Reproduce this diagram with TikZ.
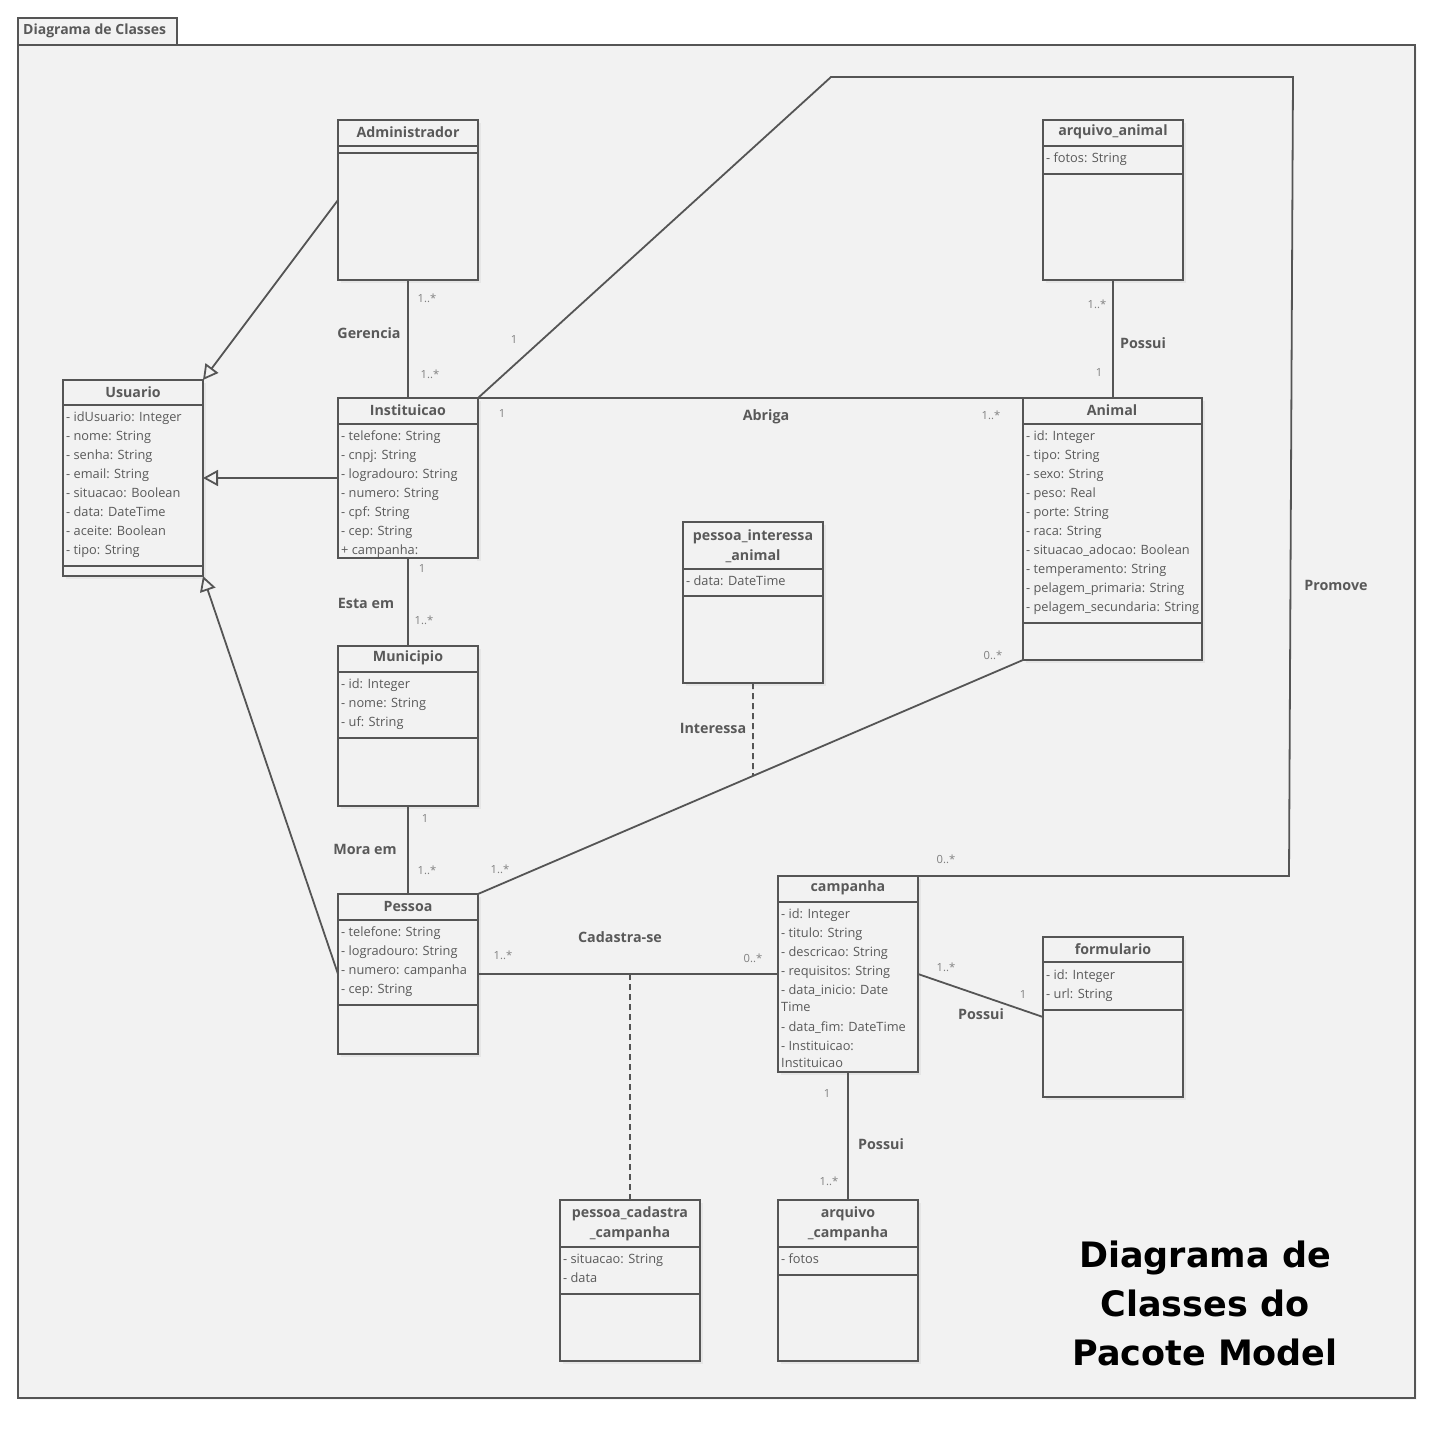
\documentclass[tikz,border=0pt]{standalone}
\usepackage{fontspec}
\setmainfont{Open Sans}
\newfontfamily\titlefont{DejaVu Sans}
\usetikzlibrary{arrows.meta,shadows,calc}
\definecolor{ln}{HTML}{555555}
\definecolor{bg}{HTML}{F2F2F2}
\definecolor{txt}{HTML}{595959}
\definecolor{multc}{HTML}{808080}
\tikzset{
  classbox/.style={draw=ln, line width=2pt, fill=bg, inner sep=0pt, outer sep=0pt, anchor=north west,
    drop shadow={opacity=0.10, shadow xshift=3pt, shadow yshift=-3pt}},
  cname/.style={font=\bfseries\fontsize{14.2}{20}\selectfont, text=txt, inner sep=0pt, align=center},
  attr/.style={anchor=west, inner sep=0pt, font=\fontsize{12.8}{14}\selectfont, text=txt, text height=9.5pt, text depth=3pt},
  seprule/.style={draw=ln, line width=2pt},
  conn/.style={draw=ln, line width=1.8pt},
  gen/.style={conn, -{Triangle[length=15pt, width=16pt, fill=bg, line width=1.8pt]}},
  assocdash/.style={draw=ln, line width=1.8pt, dash pattern=on 6pt off 4pt},
  multl/.style={font=\fontsize{11.2}{13}\selectfont, text=multc, inner sep=0pt},
  alabel/.style={font=\bfseries\fontsize{14.3}{16}\selectfont, text=txt, inner sep=0pt},
}
\newcommand{\attrlist}[4]{\foreach \t [count=\i] in {#4}{\node[attr] (#1-a\i) at (#2,{#3+19*(\i-1)}) {\t};}}
\newcommand{\seprow}[2]{\draw[seprule] (#1.west |- 0,#2) -- (#1.east |- 0,#2);}
\begin{document}
\begin{tikzpicture}[x=1pt,y=-1pt]
\useasboundingbox (0,0) rectangle (1435,1432);
\fill[white] (0,0) rectangle (1435,1432);
% frame
\draw[draw=ln, line width=2pt, fill=bg, drop shadow={opacity=0.08, shadow xshift=2pt, shadow yshift=-2pt}] (18,45) rectangle (1415,1398);
\draw[draw=ln, line width=2pt, fill=bg] (18,18) rectangle (177,45);
\node[anchor=west, font=\bfseries\fontsize{14}{16}\selectfont, text=txt, inner sep=0pt] (frametitle) at (23,31) {Diagrama de Classes};

% class boxes
\node[classbox, minimum width=140pt, minimum height=160pt] (adm) at (338,120) {};
\node[classbox, minimum width=140pt, minimum height=160pt] (arqa) at (1043,120) {};
\node[classbox, minimum width=140pt, minimum height=196pt] (usu) at (63,380) {};
\node[classbox, minimum width=140pt, minimum height=160pt] (inst) at (338,398) {};
\node[classbox, minimum width=179pt, minimum height=262pt] (ani) at (1023,398) {};
\node[classbox, minimum width=140pt, minimum height=161pt] (pia) at (683,522) {};
\node[classbox, minimum width=140pt, minimum height=160pt] (mun) at (338,646) {};
\node[classbox, minimum width=140pt, minimum height=160pt] (pes) at (338,894) {};
\node[classbox, minimum width=140pt, minimum height=196pt] (camp) at (778,876) {};
\node[classbox, minimum width=140pt, minimum height=160pt] (form) at (1043,937) {};
\node[classbox, minimum width=140pt, minimum height=161pt] (pcc) at (560,1200) {};
\node[classbox, minimum width=140pt, minimum height=161pt] (arqc) at (778,1200) {};

% compartments
\seprow{adm}{146}\seprow{adm}{153}
\seprow{arqa}{146}\seprow{arqa}{174}
\seprow{usu}{405}\seprow{usu}{566}
\seprow{inst}{424}
\seprow{ani}{424}\seprow{ani}{623}
\seprow{pia}{569}\seprow{pia}{596}
\seprow{mun}{672}\seprow{mun}{738}
\seprow{pes}{920}\seprow{pes}{1005}
\seprow{camp}{902}
\seprow{form}{962}\seprow{form}{1010}
\seprow{pcc}{1247}\seprow{pcc}{1294}
\seprow{arqc}{1247}\seprow{arqc}{1275}

% class names
\node[cname] (adm-n) at (408,132) {Administrador};
\node[cname] (arqa-n) at (1113,132) {arquivo\_animal};
\node[cname] (usu-n) at (133,392) {Usuario};
\node[cname] (inst-n) at (408,410) {Instituicao};
\node[cname] (ani-n) at (1112,410) {Animal};
\node[cname] (pia-n) at (753,546) {pessoa\_interessa\\\_animal};
\node[cname] (mun-n) at (408,658) {Municipio};
\node[cname] (pes-n) at (408,906) {Pessoa};
\node[cname] (camp-n) at (848,888) {campanha};
\node[cname] (form-n) at (1113,949) {formulario};
\node[cname] (pcc-n) at (630,1224) {pessoa\_cadastra\\\_campanha};
\node[cname] (arqc-n) at (848,1224) {arquivo\\\_campanha};

% attributes
\attrlist{arqa}{1046}{159}{- fotos: String}
\attrlist{usu}{66}{418}{- idUsuario: Integer,- nome: String,- senha: String,- email: String,- situacao: Boolean,- data: DateTime,- aceite: Boolean,- tipo: String}
\attrlist{inst}{341}{437}{- telefone: String,- cnpj: String,- logradouro: String,- numero: String,- cpf: String,- cep: String,+ campanha:}
\attrlist{ani}{1026}{437}{- id: Integer,- tipo: String,- sexo: String,- peso: Real,- porte: String,- raca: String,- situacao\_adocao: Boolean,- temperamento: String,- pelagem\_primaria: String,- pelagem\_secundaria: String}
\attrlist{pia}{686}{582}{- data: DateTime}
\attrlist{mun}{341}{685}{- id: Integer,- nome: String,- uf: String}
\attrlist{pes}{341}{933}{- telefone: String,- logradouro: String,- numero: campanha,- cep: String}
\attrlist{form}{1046}{976}{- id: Integer,- url: String}
\attrlist{pcc}{563}{1260}{- situacao: String,- data}
\attrlist{arqc}{781}{1260}{- fotos}
\foreach \yy/\t [count=\i] in {915/{- id: Integer},934/{- titulo: String},953/{- descricao: String},972/{- requisitos: String},991/{- data\_inicio: Date},1008/{Time},1028/{- data\_fim: DateTime},1047/{- Instituicao:},1064/{Instituicao}}{\node[attr] (camp-a\i) at (781,\yy) {\t};}
% redraw Instituicao border over clipped text
\fill[bg] (339,559) rectangle (477,566);
\draw[draw=ln, line width=2pt] (inst.south west) -- (inst.south east);

% generalizations
\draw[gen] (adm.west) -- (usu.north east);
\draw[gen] (inst.west) -- (usu.east);
\draw[gen] (pes.west) -- (usu.south east);

% associations
\draw[conn] (adm.south) -- (inst.north);
\draw[conn] (inst.north east) -- (ani.north west);
\coordinate (pr1) at (831,77);
\coordinate (pr2) at (1293,77);
\coordinate (pr3) at (1289,876);
\draw[conn, line join=miter] (inst.north east) -- (pr1) -- (pr2) -- (pr3) -- (camp.north east);
\draw[conn] (arqa.south) -- (ani.north -| arqa.south);
\draw[conn] (inst.south) -- (mun.north);
\draw[conn] (mun.south) -- (pes.north);
\draw[conn] (pes.north east) -- (ani.south west);
\coordinate (ia) at ($(pes.north east)!0.5046!(ani.south west)$);
\draw[assocdash] (pia.south) -- (ia);
\draw[conn] (pes.east) -- (camp.west);
\coordinate (cad) at (pcc.north |- pes.east);
\draw[assocdash] (cad) -- (pcc.north);
\draw[conn] (camp.east) -- (form.west);
\draw[conn] (camp.south) -- (arqc.north);

% association labels and multiplicities
\node[multl] (m1) at (427,298) {1..*};
\node[alabel] (l1) at (369,333) {Gerencia};
\node[multl] (m2) at (430,374) {1..*};
\node[multl] (m3) at (514,339) {1};
\node[alabel] (l2) at (1336,585) {Promove};
\node[multl] (m4) at (946,859) {0..*};
\node[multl] (m5) at (502,413) {1};
\node[alabel] (l3) at (766,417) {Abriga};
\node[multl] (m6) at (991,415) {1..*};
\node[multl] (m7) at (1097,304) {1..*};
\node[alabel] (l4) at (1143,343) {Possui};
\node[multl] (m8) at (1099,372) {1};
\node[multl] (m9) at (422,568) {1};
\node[alabel] (l5) at (366,603) {Esta em};
\node[multl] (m10) at (424,620) {1..*};
\node[multl] (m11) at (425,818) {1};
\node[alabel] (l6) at (365,849) {Mora em};
\node[multl] (m12) at (427,870) {1..*};
\node[multl] (m13) at (500,869) {1..*};
\node[multl] (m14) at (993,655) {0..*};
\node[alabel] (l7) at (713,728) {Interessa};
\node[multl] (m15) at (503,955) {1..*};
\node[alabel] (l8) at (620,937) {Cadastra-se};
\node[multl] (m16) at (753,958) {0..*};
\node[multl] (m17) at (946,967) {1..*};
\node[multl] (m18) at (1023,994) {1};
\node[alabel] (l9) at (981,1014) {Possui};
\node[multl] (m19) at (827,1093) {1};
\node[alabel] (l10) at (881,1144) {Possui};
\node[multl] (m20) at (829,1181) {1..*};

% title
\node[align=center, font=\titlefont\bfseries\fontsize{35}{49}\selectfont, text=black, inner sep=0pt] (title) at (1205,1303) {Diagrama de\\Classes do\\Pacote Model};
\end{tikzpicture}
\end{document}
